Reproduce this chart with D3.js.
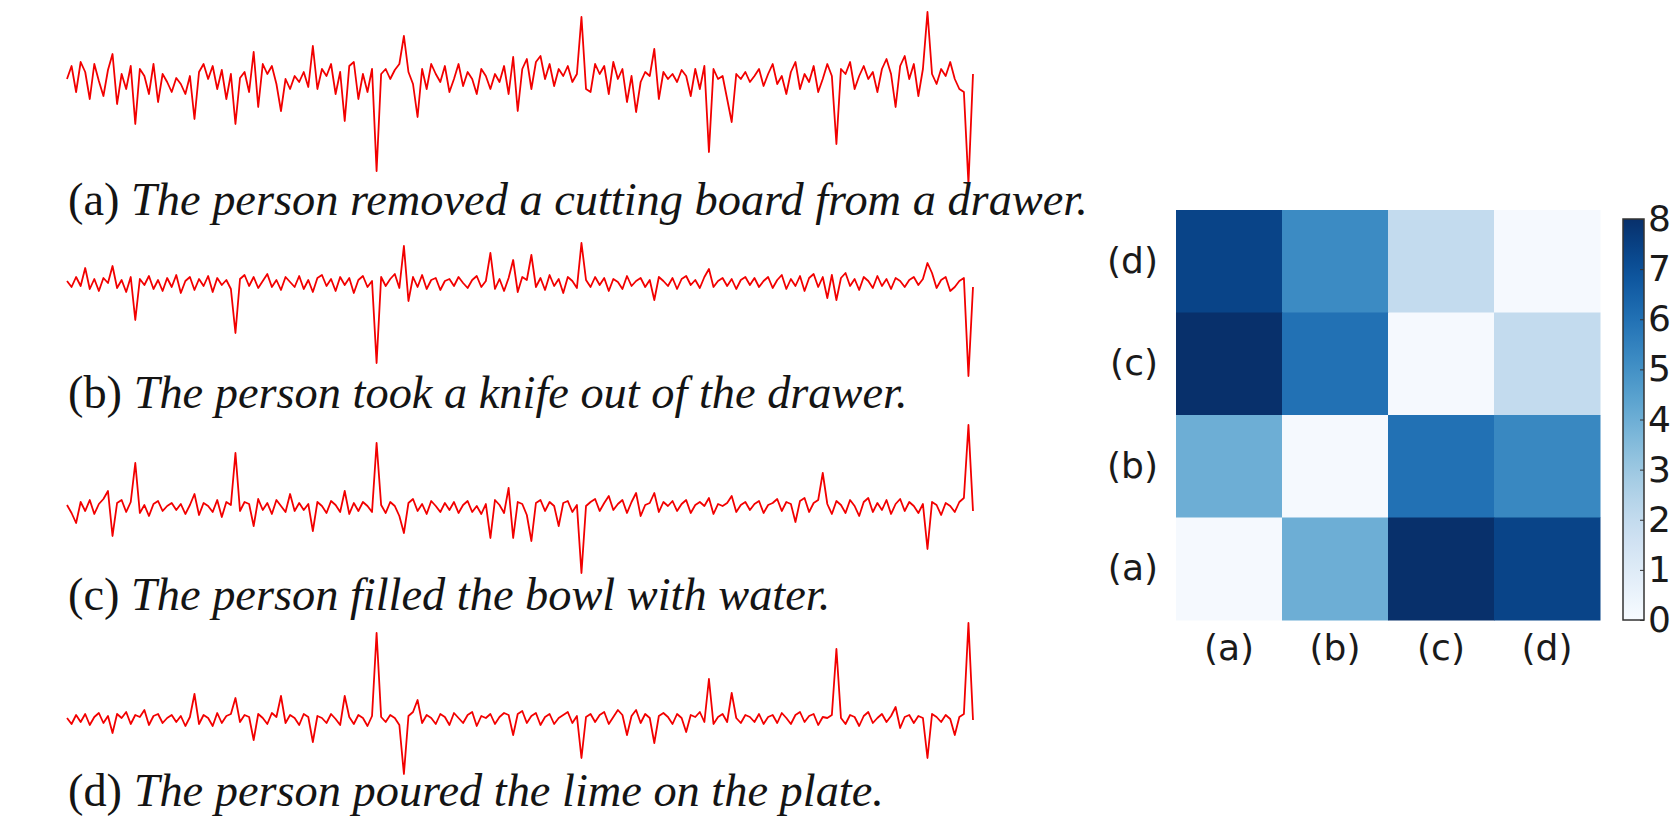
<!DOCTYPE html>
<html>
<head>
<meta charset="utf-8">
<script src="https://cdn.jsdelivr.net/npm/d3@7"></script>
<style>
  html, body { margin: 0; padding: 0; background: #fff; }
</style>
</head>
<body>
<div id="chart"></div>
<script>
// feature signals (up = positive)
const signalA = [
  5, 18, -8, 22, 12, -15, 20, 3, -12, 14, 30, -20, 10, -5, 18, -40, 15, 8, -10, 20,
  -18, 10, 2, -8, 6, 0, -10, 8, -35, 12, 20, 5, 18, -5, 14, -15, 10, -40, 6, 12,
  -8, 32, -23, 20, 10, 18, 0, -27, 5, -5, 8, 2, 12, -3, 38, -5, 15, 8, 20, -10,
  12, -37, 18, 22, -15, 10, -8, 15, -87, 10, 15, 5, 14, 20, 48, 12, 0, -33, 15, -5,
  20, 10, 2, 18, -8, 5, 20, -2, 12, 5, -10, 15, 8, -5, 10, 2, 18, -10, 27, -27,
  15, 25, -5, 22, 28, 5, 20, -2, 15, 8, 18, 2, 10, 67, -5, -8, 20, 10, 18, -10,
  22, 5, 15, -18, 8, -28, 2, 12, 8, 35, -15, 12, 5, 10, 2, 14, 8, -12, 15, -5,
  18, -68, 15, 5, 8, -15, -38, 10, 5, 12, 2, 8, 15, -2, 10, 20, 0, 8, -10, 12,
  22, -5, 10, 2, 18, -8, 5, 20, 8, -60, 15, 10, 22, -5, 8, 18, 5, 12, -8, 15,
  25, 10, -23, 18, 28, 5, 20, -12, 15, 72, 10, 0, 15, 8, 22, 5, -5, -8, -100, 10
]
const signalB = [
  2, -4, 6, -3, 15, -6, 4, -8, 5, 0, 17, -5, 3, -9, 6, -37, 4, -2, 7, -6,
  3, -8, 5, -4, 8, -10, 2, 6, -7, 4, -3, 7, -9, 5, -2, 3, -6, -50, 4, 8,
  -3, 6, -5, 2, 9, -4, 3, -7, 6, 1, -4, 7, -6, 3, -9, 5, 8, -3, 4, -8,
  6, -2, 5, -10, 3, 7, -4, 2, -80, 6, -3, 4, 9, -5, 37, -18, 6, -4, 8, -6,
  3, 5, -7, 2, 4, -3, 6, 0, -5, 3, 7, -4, 2, 30, -6, 4, -8, 5, 23, -9,
  6, 3, 28, -4, 5, -7, 8, -3, 4, -10, 6, 2, -5, 40, 3, -4, 6, -2, 5, -8,
  4, 1, -6, 7, -3, 2, 5, -4, 3, -17, 6, 2, -3, 5, -6, 4, 7, -2, 3, -5,
  6, 14, -4, 2, 5, -3, 4, -6, 3, 6, -2, 5, -4, 2, 6, -5, 3, 8, -6, 4,
  -3, 7, -8, 5, 9, -4, 6, -15, 8, -17, 5, 10, -3, 4, -7, 6, 2, -5, 7, -3,
  4, -6, 5, 2, -4, 3, 6, -2, 4, 20, 10, -5, 3, 6, -8, -4, 2, 5, -93, -4
]
const signalC = [
  3, -5, -15, 6, -3, 8, -6, 4, 9, 17, -28, 5, 8, -4, 6, 45, -5, 3, -8, 4,
  7, -3, 2, 5, -2, 4, -6, 3, 14, -7, 5, 2, -4, 8, -9, 6, 3, 55, -3, 6,
  4, -18, 9, -2, 5, -6, 8, 2, -4, 14, -3, 5, -2, 4, -23, 6, 2, -5, 7, 3,
  -4, 17, -6, 5, -3, 6, 2, -4, 65, 3, -5, 6, 2, -8, -25, 5, 9, -3, 4, -6,
  7, 2, -4, 5, -2, 6, -5, 3, 7, -4, 2, -6, 4, -30, 8, 3, -5, 20, -30, 6,
  4, -7, -33, 5, 8, -3, 6, 2, -18, 5, 7, -4, 3, -65, 2, 6, 9, -3, 5, 12,
  -2, 4, 8, -5, 6, 15, -8, 3, 5, 15, -4, 6, 2, 7, -3, 4, 8, -5, 3, 6,
  2, 10, -6, 4, 2, 5, 12, -4, 3, 6, -2, 4, 7, -5, 3, 5, 9, -3, 6, 4,
  -14, 7, 10, -4, 5, 8, 35, 4, -6, 7, 3, -5, 8, 2, -8, 6, 10, -4, 5, -2,
  8, -6, 4, 9, -3, 6, 2, -5, 4, -41, 6, 3, -7, 5, 2, -4, 6, 10, 83, -3
]
const signalD = [
  2, -4, 5, -2, 6, -5, 3, 7, -3, 4, -13, 6, 2, 8, -4, 5, 3, 10, -5, 4,
  6, -3, 2, 5, -2, 4, -6, 3, 26, -4, 5, 2, -6, 7, -3, 4, 6, 22, -2, 5,
  3, -20, 6, 2, -4, 7, 3, 24, -3, 5, 2, -5, 6, 3, -22, 4, 2, -3, 6, 1,
  -5, 24, 3, -4, 5, 2, -6, 4, 87, 3, -2, 5, 2, -5, -54, 4, 8, 20, -3, 5,
  2, -4, 6, 3, -5, 7, 2, -3, 5, 8, -6, 4, 2, 6, -4, 3, 7, 5, -15, 6,
  9, -3, 4, 7, -5, 3, 6, -4, 2, 5, 8, -3, 4, -38, 3, 6, -2, 5, 8, -4,
  3, 10, 5, -15, 4, 10, -3, 6, 2, -23, 4, 7, 3, -4, 6, 2, -12, 5, 3, 8,
  -2, 41, -4, 3, 6, -2, 27, 2, -3, 5, 3, -2, 6, -4, 3, 5, -3, 7, 2, -4,
  5, 8, -2, 4, 6, -5, 3, 2, 5, 71, 2, -4, 5, 3, -6, 4, 8, -3, 2, 6,
  -2, 4, 13, -8, 3, 5, -3, 4, 2, -38, 6, 3, -2, 5, 1, -15, 3, 6, 97, 0
]

const captionTags = ['(a)', '(b)', '(c)', '(d)']
const captionTexts = [
  'The person removed a cutting board from a drawer.',
  'The person took a knife out of the drawer.',
  'The person filled the bowl with water.',
  'The person poured the lime on the plate.'
]

// distance matrix, rows listed top to bottom
const heatRows = ['(d)', '(c)', '(b)', '(a)']
const heatCols = ['(a)', '(b)', '(c)', '(d)']
const heatValues = [
  [7.4, 5.2, 2.0, 0.1],
  [8.0, 6.0, 0.1, 2.0],
  [4.0, 0.1, 6.0, 5.3],
  [0.1, 4.0, 8.0, 7.4]
]
const colorTicks = [0, 1, 2, 3, 4, 5, 6, 7, 8]

const width = 1676
const height = 828

const svg = d3.select('#chart').append('svg')
  .attr('width', width)
  .attr('height', height)

// ---- signals + captions ----
const panels = [
  { values: signalA, base: 84, captionY: 215 },
  { values: signalB, base: 283, captionY: 408 },
  { values: signalC, base: 508, captionY: 610 },
  { values: signalD, base: 720, captionY: 806 }
]

const x = d3.scaleLinear()
  .domain([0, signalA.length - 1])
  .range([67, 973])

const captions = []
panels.forEach((p, i) => {
  const y = d3.scaleLinear()
    .domain([-100, 100])
    .range([p.base + 100, p.base - 100])

  const line = d3.line()
    .x((d, j) => x(j))
    .y(d => y(d))

  svg.append('path')
    .datum(p.values)
    .attr('d', line)
    .attr('fill', 'none')
    .attr('stroke', '#f20000')
    .attr('stroke-width', 1.8)
    .attr('stroke-linejoin', 'round')

  const t = svg.append('text')
    .attr('x', 68)
    .attr('y', p.captionY)
    .attr('font-family', "'Liberation Serif', 'Times New Roman', serif")
    .attr('font-size', 34)
    .attr('fill', '#141414')
  t.append('tspan').text(captionTags[i] + ' ')
  t.append('tspan').attr('font-style', 'italic').text(captionTexts[i])
  captions.push(t)
})

// fit caption size to the width of the first caption
const fitW = 1088 - 68
const fs = 34 * fitW / captions[0].node().getComputedTextLength()
captions.forEach(t => t.attr('font-size', fs))

// ---- heatmap ----
const labelFont = "'DejaVu Sans', sans-serif"
const labelSize = 36

const hx = d3.scaleBand().domain(heatCols).range([1176, 1600])
const hy = d3.scaleBand().domain(heatRows).range([210, 620])
const color = d3.scaleSequential(d3.interpolateBlues).domain([0, 8])

const cells = []
heatRows.forEach((r, i) => heatCols.forEach((c, j) => cells.push({ r, c, v: heatValues[i][j] })))

svg.append('g')
  .selectAll('rect')
  .data(cells).enter()
  .append('rect')
  .attr('x', d => hx(d.c))
  .attr('y', d => hy(d.r))
  .attr('width', hx.bandwidth() + 0.5)
  .attr('height', hy.bandwidth() + 0.5)
  .attr('fill', d => color(d.v))

const styleAxis = g => g
  .call(g => g.select('.domain').remove())
  .call(g => g.selectAll('text')
    .attr('font-family', labelFont)
    .attr('font-size', labelSize)
    .attr('fill', '#1a1a1a'))

svg.append('g')
  .attr('transform', 'translate(1176,0)')
  .call(d3.axisLeft(hy).tickSize(0).tickPadding(18))
  .call(styleAxis)

svg.append('g')
  .attr('transform', 'translate(0,620)')
  .call(d3.axisBottom(hx).tickSize(0).tickPadding(14))
  .call(styleAxis)

// ---- colorbar ----
const cbLeft = 1623
const cbW = 21
const cbY = d3.scaleLinear().domain([0, 8]).range([620, 219])

const grad = svg.append('defs').append('linearGradient')
  .attr('id', 'cbgrad')
  .attr('x1', 0).attr('y1', 1).attr('x2', 0).attr('y2', 0)
grad.selectAll('stop')
  .data(d3.range(0, 1.0001, 0.05)).enter()
  .append('stop')
  .attr('offset', d => d)
  .attr('stop-color', d => color(d * 8))

svg.append('rect')
  .attr('x', cbLeft)
  .attr('y', cbY(8))
  .attr('width', cbW)
  .attr('height', cbY(0) - cbY(8))
  .attr('fill', 'url(#cbgrad)')
  .attr('stroke', '#333')
  .attr('stroke-width', 1.5)

svg.append('g')
  .attr('transform', `translate(${cbLeft + cbW},0)`)
  .call(d3.axisRight(cbY).tickValues(colorTicks).tickSizeInner(-4).tickSizeOuter(0).tickPadding(4))
  .call(g => g.selectAll('.tick line').attr('stroke', '#333'))
  .call(styleAxis)
</script>
</body>
</html>
